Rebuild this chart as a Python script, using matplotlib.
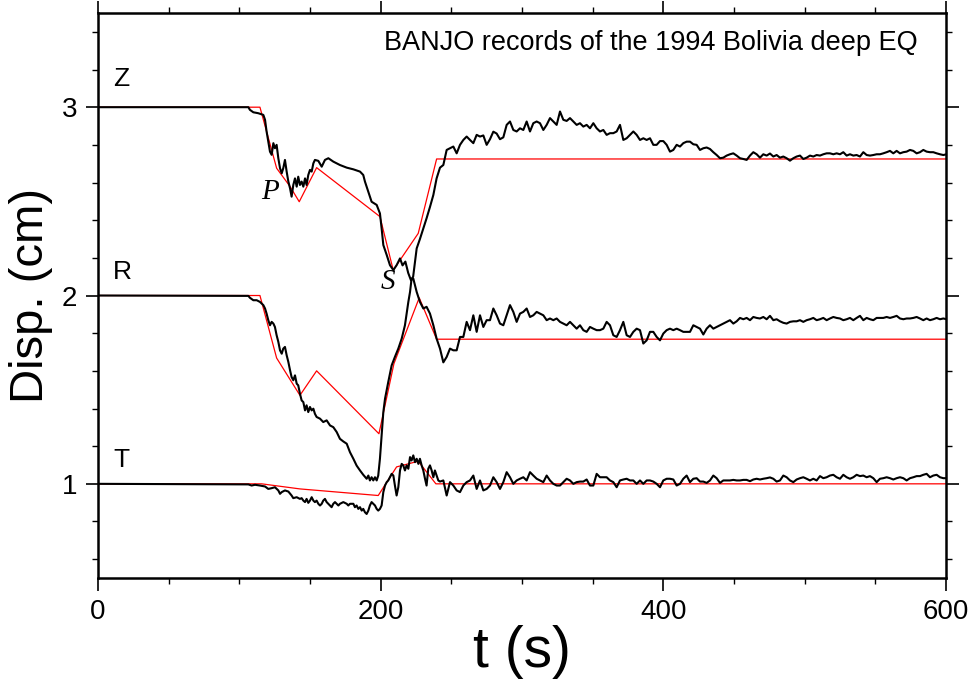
import numpy as np
import matplotlib.pyplot as plt

plt.rcParams['font.family'] = ['Liberation Sans', 'DejaVu Sans']

# black traces: irregular samples up to ~241 s, then a regular tail from 242 s
z_t_early = [0, 106.4, 107.5, 109.9, 113.4, 117.0, 118.2, 119.3, 120.5, 121.7,
             122.9, 124.1, 125.2, 126.4, 127.6, 128.8, 130.0, 131.1, 132.3, 133.5,
             134.7, 135.9, 137.0, 138.2, 139.4, 140.6, 141.7, 142.9, 144.1, 145.3,
             146.5, 147.6, 148.8, 150.0, 151.2, 152.4, 153.5, 155.9, 158.3, 160.6,
             163.0, 166.5, 171.2, 176.0, 180.7, 185.4, 187.7, 188.9, 191.3, 193.6,
             197.2, 199.5, 200.7, 201.9, 204.3, 206.6, 209.0, 211.3, 213.7, 215.5,
             217.5, 219.5, 221.5, 223.0, 224.3, 225.5, 227.8, 230.2, 232.5, 234.9,
             237.3, 239.6]
z_early = [3.0, 3.0, 2.986, 2.973, 2.968, 2.959, 2.933, 2.871, 2.817, 2.764,
           2.747, 2.809, 2.782, 2.800, 2.729, 2.676, 2.649, 2.676, 2.720, 2.658,
           2.605, 2.569, 2.525, 2.587, 2.622, 2.578, 2.631, 2.587, 2.605, 2.578,
           2.622, 2.587, 2.640, 2.667, 2.658, 2.702, 2.720, 2.715, 2.684, 2.720,
           2.729, 2.711, 2.693, 2.679, 2.670, 2.658, 2.640, 2.605, 2.551, 2.498,
           2.481, 2.436, 2.356, 2.268, 2.215, 2.161, 2.135, 2.161, 2.197, 2.16,
           2.18, 2.12, 2.08, 2.10, 2.18, 2.25, 2.30, 2.356, 2.410, 2.47,
           2.534, 2.622]
z_tail = [2.679, 2.693, 2.773, 2.782, 2.791, 2.755, 2.800, 2.826, 2.844, 2.826,
          2.809, 2.853, 2.844, 2.850, 2.800, 2.830, 2.870, 2.860, 2.830, 2.840,
          2.906, 2.924, 2.879, 2.871, 2.888, 2.879, 2.924, 2.871, 2.915, 2.924,
          2.915, 2.879, 2.906, 2.942, 2.924, 2.906, 2.977, 2.933, 2.927, 2.942,
          2.924, 2.906, 2.915, 2.897, 2.906, 2.888, 2.915, 2.888, 2.871, 2.879,
          2.853, 2.862, 2.862, 2.871, 2.906, 2.826, 2.835, 2.853, 2.871, 2.853,
          2.826, 2.835, 2.826, 2.835, 2.800, 2.800, 2.820, 2.820, 2.800, 2.764,
          2.773, 2.800, 2.791, 2.809, 2.817,
          2.817, 2.803, 2.800, 2.773, 2.782, 2.786, 2.778, 2.761, 2.746, 2.729,
          2.732, 2.743, 2.750, 2.755, 2.743, 2.729, 2.725, 2.720, 2.743, 2.761,
          2.750, 2.732, 2.750, 2.743, 2.754, 2.738, 2.746, 2.732, 2.738, 2.729,
          2.716, 2.729, 2.738, 2.743, 2.725, 2.732, 2.743, 2.738, 2.746, 2.743,
          2.750, 2.755, 2.755, 2.750, 2.755, 2.750, 2.761, 2.743, 2.750, 2.743,
          2.746, 2.738, 2.761, 2.746, 2.743, 2.746, 2.750, 2.750, 2.755, 2.761,
          2.768, 2.755, 2.768, 2.755, 2.761, 2.764, 2.773, 2.768, 2.755, 2.761,
          2.773, 2.764, 2.761, 2.761, 2.755, 2.750, 2.746, 2.750]

r_t_early = [0, 106.4, 107.5, 109.9, 112.3, 114.6, 117.0, 118.2, 119.3, 120.5,
             121.7, 122.9, 124.1, 125.2, 126.4, 127.6, 128.8, 130.0, 131.1, 132.3,
             133.5, 134.7, 135.9, 137.0, 138.2, 139.4, 140.6, 141.7, 142.9, 144.1,
             145.3, 146.5, 147.6, 148.8, 150.0, 151.2, 152.4, 153.5, 154.7, 157.1,
             159.4, 161.8, 164.2, 166.5, 168.9, 171.2, 173.6, 176.0, 178.3, 180.7,
             183.0, 185.4, 187.7, 190.1, 191.3, 192.4, 193.6, 194.8, 196.0, 197.2,
             198.3, 199.5, 200.7, 201.9, 203.1, 205.4, 207.8, 210.1, 212.5, 214.9,
             217.2, 219.6, 220.8, 221.9, 223.1, 225.5, 227.8, 230.2, 232.5, 234.9,
             237.3, 239.6]
r_early = [2.0, 1.998, 1.988, 1.975, 1.975, 1.966, 1.949, 1.931, 1.904, 1.869,
           1.842, 1.860, 1.851, 1.833, 1.789, 1.754, 1.709, 1.691, 1.718, 1.727,
           1.683, 1.647, 1.603, 1.567, 1.550, 1.576, 1.532, 1.523, 1.479, 1.443,
           1.434, 1.390, 1.417, 1.381, 1.408, 1.390, 1.399, 1.372, 1.355, 1.346,
           1.328, 1.337, 1.310, 1.301, 1.275, 1.239, 1.225, 1.213, 1.168, 1.133,
           1.097, 1.071, 1.048, 1.027, 1.044, 1.018, 1.035, 1.018, 1.035, 1.018,
           1.044, 1.133, 1.257, 1.381, 1.452, 1.541, 1.629, 1.674, 1.718, 1.771,
           1.842, 1.966, 2.019, 2.090, 2.090, 2.019, 1.966, 1.931, 1.940, 1.904,
           1.842, 1.771]
r_tail = [1.718, 1.645, 1.674, 1.718, 1.709, 1.709, 1.780, 1.780, 1.860, 1.816,
          1.895, 1.807, 1.895, 1.833, 1.869, 1.869, 1.931, 1.895, 1.851, 1.842,
          1.895, 1.949, 1.913, 1.860, 1.904, 1.913, 1.931, 1.886, 1.895, 1.913,
          1.904, 1.895, 1.869, 1.878, 1.869, 1.878, 1.860, 1.851, 1.842, 1.860,
          1.842, 1.824, 1.842, 1.816, 1.807, 1.833, 1.824, 1.816, 1.816, 1.824,
          1.860, 1.842, 1.789, 1.780, 1.816, 1.860, 1.789, 1.780, 1.807, 1.824,
          1.816, 1.745, 1.762, 1.807, 1.807, 1.780, 1.762, 1.798, 1.816, 1.824,
          1.816, 1.824, 1.816, 1.807, 1.807,
          1.807, 1.842, 1.833, 1.824, 1.793, 1.824, 1.842, 1.824, 1.833, 1.842,
          1.851, 1.860, 1.869, 1.851, 1.863, 1.881, 1.874, 1.881, 1.869, 1.886,
          1.881, 1.878, 1.886, 1.874, 1.892, 1.869, 1.874, 1.863, 1.855, 1.851,
          1.860, 1.863, 1.863, 1.869, 1.860, 1.869, 1.874, 1.881, 1.869, 1.874,
          1.881, 1.869, 1.878, 1.886, 1.881, 1.878, 1.869, 1.874, 1.881, 1.869,
          1.881, 1.892, 1.869, 1.881, 1.874, 1.869, 1.881, 1.881, 1.881, 1.886,
          1.881, 1.886, 1.892, 1.878, 1.874, 1.878, 1.878, 1.881, 1.886, 1.878,
          1.869, 1.878, 1.869, 1.874, 1.881, 1.874, 1.878, 1.874]

t_t_early = [0, 106.4, 108.7, 111.1, 114.6, 118.2, 120.5, 122.9, 125.2, 127.6,
             128.8, 130.0, 132.3, 134.7, 137.0, 138.2, 140.6, 142.9, 144.1, 145.3,
             146.5, 147.6, 148.8, 150.0, 151.2, 152.4, 153.5, 154.7, 155.9, 157.1,
             158.3, 159.4, 160.6, 161.8, 163.0, 164.2, 165.3, 166.5, 167.7, 168.9,
             170.1, 171.2, 173.6, 176.0, 177.1, 178.3, 180.7, 181.8, 183.0, 184.2,
             185.4, 186.6, 187.7, 188.9, 190.1, 191.3, 192.4, 193.6, 194.8, 196.0,
             197.2, 198.3, 199.5, 200.7, 201.9, 203.1, 204.3, 205.4, 206.6, 207.8,
             209.0, 210.1, 211.3, 212.5, 213.7, 214.9, 216.0, 217.2, 218.4, 219.6,
             220.8, 221.9, 223.1, 224.3, 225.5, 226.7, 227.8, 229.0, 230.2, 231.4,
             232.5, 233.7, 234.9, 236.1, 237.3, 238.4, 239.6, 240.8]
t_early = [1.0, 0.997, 0.991, 0.995, 0.991, 0.986, 0.973, 0.977, 0.982, 0.965,
           0.947, 0.956, 0.965, 0.959, 0.938, 0.924, 0.929, 0.920, 0.924, 0.911,
           0.903, 0.920, 0.899, 0.911, 0.929, 0.911, 0.903, 0.911, 0.894, 0.885,
           0.894, 0.911, 0.920, 0.903, 0.894, 0.885, 0.876, 0.894, 0.903, 0.894,
           0.885, 0.894, 0.903, 0.894, 0.885, 0.894, 0.894, 0.876, 0.885, 0.867,
           0.876, 0.858, 0.867, 0.849, 0.840, 0.858, 0.885, 0.903, 0.894, 0.885,
           0.867, 0.858, 0.867, 0.885, 0.956, 0.991, 1.009, 1.018, 1.035, 1.053,
           1.044, 0.991, 0.938, 0.982, 1.071, 1.106, 1.098, 1.071, 1.098, 1.080,
           1.142, 1.124, 1.151, 1.115, 1.133, 1.106, 1.133, 1.098, 1.071, 1.027,
           0.991, 1.080, 1.098, 1.071, 1.035, 1.071, 1.044, 1.018]
t_tail = [1.012, 1.018, 0.938, 1.009, 0.991, 0.965, 0.956, 0.991, 1.009, 1.018,
          1.044, 0.973, 1.018, 0.965, 0.973, 0.991, 1.035, 1.009, 0.973, 1.009,
          1.062, 1.035, 1.000, 1.018, 1.027, 1.035, 1.018, 1.062, 1.044, 1.027,
          1.018, 1.009, 1.044, 1.018, 1.000, 0.991, 0.991, 1.009, 1.027, 1.018,
          1.000, 1.009, 1.012, 1.012, 1.023, 0.991, 0.991, 1.053, 1.035, 1.035,
          1.035, 1.018, 1.009, 0.982, 1.018, 1.023, 1.027, 1.018, 1.018, 1.000,
          1.018, 1.000, 1.018, 1.018, 1.012, 1.000, 0.982, 1.018, 1.027, 1.027,
          1.023, 0.991, 1.000, 1.027, 1.044,
          1.009, 1.027, 1.030, 1.012, 1.012, 1.005, 1.018, 1.044, 1.030, 1.005,
          1.018, 1.018, 1.018, 1.021, 1.018, 1.018, 1.021, 1.021, 1.014, 1.023,
          1.027, 1.023, 1.027, 1.030, 1.034, 1.027, 1.012, 1.018, 1.044, 1.035,
          1.018, 1.009, 1.023, 1.030, 1.035, 1.027, 1.018, 1.027, 1.018, 1.041,
          1.030, 1.035, 1.044, 1.048, 1.035, 1.027, 1.048, 1.035, 1.027, 1.035,
          1.048, 1.041, 1.044, 1.035, 1.041, 1.030, 1.009, 1.027, 1.030, 1.035,
          1.030, 1.023, 1.030, 1.035, 1.030, 1.018, 1.030, 1.035, 1.041, 1.041,
          1.048, 1.053, 1.035, 1.044, 1.048, 1.035, 1.030, 1.030]

tail_start = 242.0
tail_dt = 2.3585

# red synthetic (model) traces
z_model_t = [0, 114.6, 126.4, 135.8, 142.4, 154.7, 199.5, 208.9, 226.6, 239.6, 600]
z_model = [3.0, 3.0, 2.676, 2.58, 2.498, 2.679, 2.419, 2.135, 2.33, 2.725, 2.725]
r_model_t = [0, 114.6, 126.4, 142.9, 154.7, 198.8, 209.4, 227.3, 239.6, 600]
r_model = [2.0, 2.0, 1.668, 1.47, 1.60, 1.266, 1.638, 1.988, 1.768, 1.768]
t_model_t = [0, 115.8, 142.9, 198.3, 211.3, 226.6, 239.1, 600]
t_model = [1.0, 1.0, 0.973, 0.938, 1.09, 1.12, 1.0, 1.0]

traces = [
    ('Z', 3.15, z_t_early, z_early, z_tail, z_model_t, z_model),
    ('R', 2.125, r_t_early, r_early, r_tail, r_model_t, r_model),
    ('T', 1.125, t_t_early, t_early, t_tail, t_model_t, t_model),
]

fig = plt.figure(figsize=(9.74, 6.82), dpi=100)
ax = fig.add_axes([0.1006, 0.1525, 0.8706, 0.8284])

for name, ylab, te, ye, ytail, tm, ym in traces:
    tt = np.concatenate([te, tail_start + tail_dt * np.arange(len(ytail))])
    yy = np.concatenate([ye, ytail])
    ax.plot(tm, ym, color='red', lw=0.9, zorder=2)
    ax.plot(tt, yy, color='black', lw=1.5, zorder=3)
    ax.text(10.6, ylab, name, fontsize=19, va='center', ha='left')

ax.text(121.7, 2.55, 'P', fontsize=21, style='italic', family='Liberation Serif',
        ha='center', va='center')
ax.text(205.4, 2.074, 'S', fontsize=21, style='italic', family='Liberation Serif',
        ha='center', va='center')
ax.text(580, 3.34, 'BANJO records of the 1994 Bolivia deep EQ', fontsize=19.5,
        ha='right', va='center')

ax.set_xlim(0, 600)
ax.set_ylim(0.5, 3.5)
ax.set_xticks([0, 200, 400, 600])
ax.set_xticks(np.arange(0, 601, 50), minor=True)
ax.set_yticks([1, 2, 3])
ax.set_yticks(np.arange(0.6, 3.45, 0.2), minor=True)
ax.tick_params(which='both', direction='out', top=True, right=True,
               labeltop=False, labelright=False)
ax.tick_params(which='major', length=9, width=1.2, labelsize=20, pad=6)
ax.tick_params(which='minor', length=4.5, width=1.0)
for sp in ax.spines.values():
    sp.set_linewidth(1.8)

ax.set_xlabel('t (s)', fontsize=41, labelpad=0)
ax.set_ylabel('Disp. (cm)', fontsize=34, labelpad=6)

fig.savefig('out.png', dpi=100)
